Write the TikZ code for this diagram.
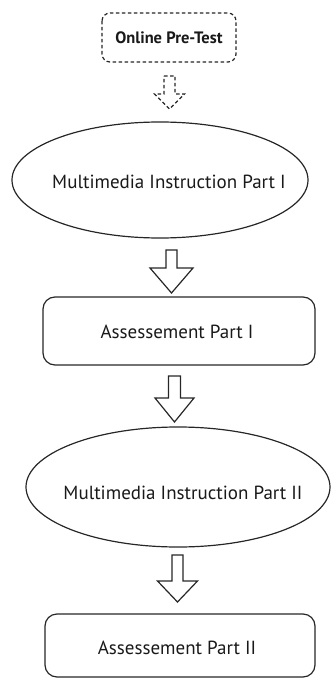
\documentclass[tikz,border=0pt]{standalone}
\usepackage{fontspec}
\setmainfont{PT Sans}
\usetikzlibrary{shapes.geometric}
\begin{document}
\begin{tikzpicture}[x=1pt,y=-1pt,
  txt/.style={font=\fontsize{19}{22}\selectfont, text=black!90},
  ln/.style={draw=black!85, line width=1.2pt},
  dsh/.style={ln, dash pattern=on 3.5pt off 2.5pt},
  rbox/.style={ln, rounded corners=12pt},
  ell/.style={ln}]
\useasboundingbox (0,0) rectangle (332,679);
% block arrow macro
\newcommand{\blockarr}[7][ln]{%
  \draw[#1, line join=miter] (#2-#6,#3) -- (#2+#6,#3) -- (#2+#6,#4) -- (#2+#7,#4) -- (#2,#5) -- (#2-#7,#4) -- (#2-#6,#4) -- cycle;}
% pre-test
\draw[dsh, rounded corners=8pt] (102,13) rectangle (236,62);
\node[txt, font=\fontsize{16.5}{19}\selectfont\bfseries] (pre) at (169,38) {Online Pre-Test};
\blockarr[dsh]{169.5}{76}{94}{109}{5.5}{15}
% ellipse 1
\draw[ell] (160,180) ellipse [x radius=148, y radius=58];
\node[txt] (mi1) at (169,182) {Multimedia Instruction Part I};
\blockarr{171.5}{250}{268}{293}{5.5}{21.5}
% box 1
\draw[rbox] (43,297) rectangle (315,365);
\node[txt] (as1) at (177,332) {Assessement Part I};
\blockarr{174.5}{376}{398}{422}{6}{19.5}
% ellipse 2
\draw[ell] (178,487) ellipse [x radius=152, y radius=60];
\node[txt] (mi2) at (183,493) {Multimedia Instruction Part II};
\blockarr{177.5}{555}{581}{602}{5.5}{20}
% box 2
\draw[rbox] (45,614) rectangle (315,677);
\node[txt] (as2) at (177,648) {Assessement Part II};
\end{tikzpicture}
\end{document}
